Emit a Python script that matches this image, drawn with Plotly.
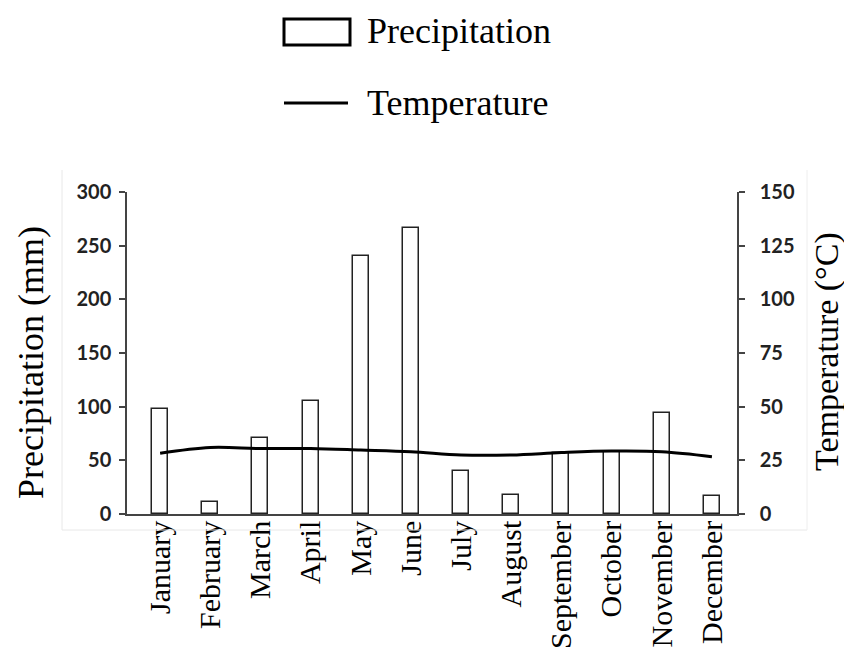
import plotly.graph_objects as go

months = ["January", "February", "March", "April", "May", "June",
          "July", "August", "September", "October", "November", "December"]
precipitation = [98, 11, 71, 105, 240, 266, 40, 18, 57, 58, 94, 17]
temperature = [28.3, 31, 30.5, 30.5, 29.8, 29, 27.5, 27.5, 28.6, 29.3, 29, 26.7]

precip_ticks = [0, 50, 100, 150, 200, 250, 300]
temp_ticks = [0, 25, 50, 75, 100, 125, 150]

# plot area in page pixels, used to place the hand-drawn legend and titles
L, R, T, B = 127, 737, 192, 514
W, H = 852, 660
OFF = 8  # default body margin of the html page


def px_x(x):
    return (x - L) / (R - L)


def px_y(y):
    return (B - y) / (B - T)


serif = "Liberation Serif"
tick_font = dict(family="Lato", size=20, color="#222222", weight="bold")
title_font = dict(family=serif, size=36, color="black")

fig = go.Figure()
fig.add_trace(go.Bar(
    x=list(range(len(months))), y=precipitation, name="Precipitation",
    width=0.32, marker=dict(color="white", line=dict(color="#222222", width=1.5)),
    yaxis="y",
))
fig.add_trace(go.Scatter(
    x=list(range(len(months))), y=temperature, name="Temperature",
    mode="lines", line=dict(color="black", width=3, shape="spline"),
    yaxis="y2",
))

shapes = [
    # legend symbols
    dict(type="rect", xref="paper", yref="paper",
         x0=px_x(284), x1=px_x(350), y0=px_y(45), y1=px_y(19),
         line=dict(color="black", width=3), fillcolor="white"),
    dict(type="line", xref="paper", yref="paper",
         x0=px_x(284), x1=px_x(348), y0=px_y(103), y1=px_y(103),
         line=dict(color="black", width=3)),
    # faint chart-area frame
    dict(type="line", xref="paper", yref="paper",
         x0=px_x(62), x1=px_x(62), y0=px_y(530), y1=px_y(170),
         line=dict(color="#e8e8e8", width=1)),
    dict(type="line", xref="paper", yref="paper",
         x0=px_x(62), x1=px_x(807), y0=px_y(530), y1=px_y(530),
         line=dict(color="#e8e8e8", width=1)),
    dict(type="line", xref="paper", yref="paper",
         x0=px_x(807), x1=px_x(807), y0=px_y(530), y1=px_y(170),
         line=dict(color="#eeeeee", width=1)),
]

annotations = [
    dict(text="Precipitation", xref="paper", yref="paper", x=px_x(365), y=px_y(31),
         xanchor="left", yanchor="middle", showarrow=False, font=title_font),
    dict(text="Temperature", xref="paper", yref="paper", x=px_x(365), y=px_y(103),
         xanchor="left", yanchor="middle", showarrow=False, font=title_font),
    # axis titles
    dict(text="Precipitation (mm)", xref="paper", yref="paper", x=px_x(31), y=px_y(362),
         xanchor="center", yanchor="middle", textangle=-90, showarrow=False,
         font=title_font),
    dict(text="Temperature (°C)", xref="paper", yref="paper", x=px_x(827), y=px_y(352),
         xanchor="center", yanchor="middle", textangle=-90, showarrow=False,
         font=dict(family=serif, size=34, color="black")),
]

fig.update_layout(
    width=W - 2 * OFF, height=H - 2 * OFF,
    margin=dict(l=L - OFF, r=W - R - OFF, t=T - OFF, b=H - B - OFF),
    paper_bgcolor="white", plot_bgcolor="white",
    showlegend=False,
    bargap=0,
    shapes=shapes,
    annotations=annotations,
    xaxis=dict(
        range=[-0.66, 11.5], tickvals=list(range(len(months))), ticktext=months,
        tickangle=-90, ticks="", showgrid=False, zeroline=False,
        showline=True, linecolor="#444444", linewidth=1.5,
        ticklabelstandoff=-7, automargin=False,
        tickfont=dict(family=serif, size=30, color="black"),
    ),
    yaxis=dict(
        range=[0, 300], tickvals=precip_ticks, showgrid=False, zeroline=False,
        showline=True, linecolor="#444444", linewidth=1.5,
        ticks="outside", ticklen=6, tickcolor="#444444", tickwidth=1.5,
        ticklabelstandoff=4, automargin=False,
        tickfont=tick_font,
    ),
    yaxis2=dict(
        range=[0, 150], tickvals=temp_ticks, overlaying="y", side="right",
        showgrid=False, zeroline=False,
        showline=True, linecolor="#444444", linewidth=1.5,
        ticks="outside", ticklen=6, tickcolor="#444444", tickwidth=1.5,
        ticklabelstandoff=11, automargin=False,
        tickfont=tick_font,
    ),
)

fig.write_html("out.html")
